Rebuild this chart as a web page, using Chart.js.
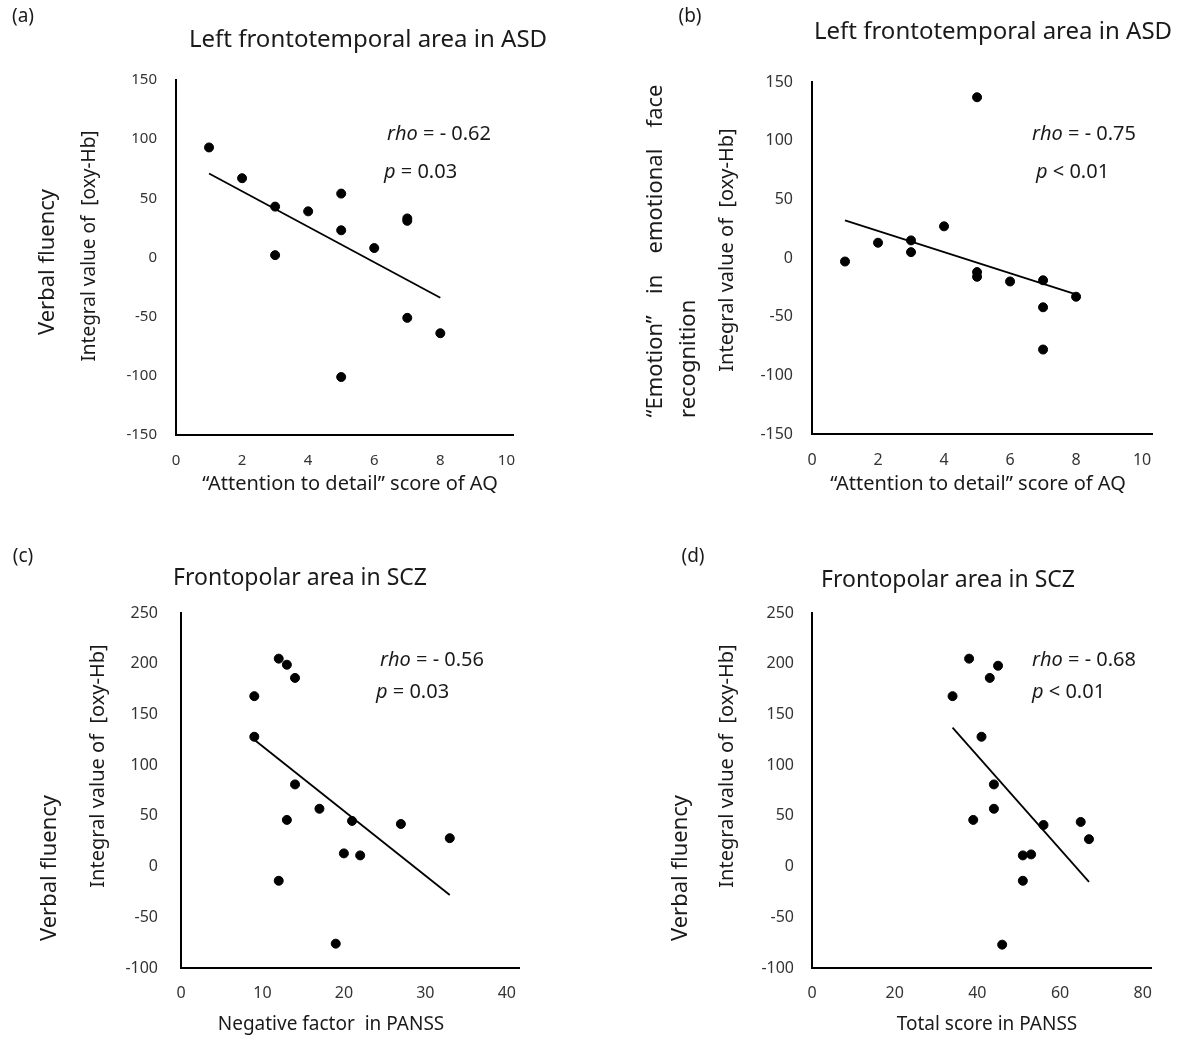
<!doctype html>
<html>
<head>
<meta charset="utf-8">
<script src="https://cdn.jsdelivr.net/npm/chart.js@4.4.1/dist/chart.umd.min.js"></script>
<style>
  body { margin:0; background:#fff; width:1179px; height:1039px; position:relative; overflow:hidden; }
  canvas { position:absolute; }
</style>
</head>
<body>
<canvas id="ca"></canvas>
<canvas id="cb"></canvas>
<canvas id="cc"></canvas>
<canvas id="cd"></canvas>
<script>
// (a) verbal fluency vs AQ attention to detail (ASD)
const aqA   = [1, 2, 3, 3, 4, 5, 5, 5, 6, 7, 7, 7, 8];
const oxyA  = [93, 67, 43, 2, 39, 54, 23, -101, 8, 33, 31, -51, -64];
const fitA  = [[1, 71], [8, -34]];
// (b) emotion task vs AQ attention to detail (ASD)
const aqB   = [1, 2, 3, 3, 4, 5, 5, 5, 6, 7, 7, 7, 8];
const oxyB  = [-3, 13, 15, 5, 27, 137, -12, -16, -20, -19, -42, -78, -33];
const fitB  = [[1, 32], [8, -31]];
// (c) verbal fluency vs PANSS negative factor (SCZ)
const negC  = [12, 13, 14, 9, 9, 14, 17, 13, 21, 27, 33, 20, 22, 12, 19];
const oxyC  = [205, 199, 186, 168, 128, 81, 57, 46, 45, 42, 28, 13, 11, -14, -76];
const fitC  = [[9, 125], [33, -28]];
// (d) verbal fluency vs PANSS total (SCZ)
const totD  = [38, 45, 43, 34, 41, 44, 44, 39, 56, 65, 67, 51, 53, 51, 46];
const oxyD  = [205, 198, 186, 168, 128, 81, 57, 46, 41, 44, 27, 11, 12, -14, -77];
const fitD  = [[34, 137], [67, -15]];

const ticksAQ = [0, 2, 4, 6, 8, 10];
const ticksNeg = [0, 10, 20, 30, 40];
const ticksTot = [0, 20, 40, 60, 80];
const yTicksASD = [-150, -100, -50, 0, 50, 100, 150];
const yTicksSCZ = [-100, -50, 0, 50, 100, 150, 200, 250];

const FONT = '"Noto Sans", "Open Sans", sans-serif';
const INK = '#1a1a1a';

const toPts = (xs, ys) => xs.map((x, i) => ({x: x, y: ys[i]}));
const toLine = arr => arr.map(p => ({x: p[0], y: p[1]}));

// draws titles, axis captions and stats on top of each chart
const panelText = {
  id: 'panelText',
  afterDraw(chart, args, o) {
    const ctx = chart.ctx;
    const ox = o.origin[0], oy = o.origin[1];
    (o.items || []).forEach(t => {
      ctx.save();
      ctx.fillStyle = INK;
      ctx.textBaseline = 'middle';
      ctx.translate(t.x - ox, t.y - oy);
      if (t.rot) ctx.rotate(-Math.PI / 2);
      const size = t.size || 16;
      if (t.parts) {
        let x = 0;
        t.parts.forEach(p => {
          ctx.font = (p.it ? 'italic ' : '') + size + 'px ' + FONT;
          ctx.fillText(p.t, x, 0);
          x += ctx.measureText(p.t).width;
        });
      } else if (t.justify) {
        ctx.font = size + 'px ' + FONT;
        const words = t.text.split(' ').filter(Boolean);
        const w = words.map(s => ctx.measureText(s).width);
        const gap = (t.justify - w.reduce((a, b) => a + b, 0)) / (words.length - 1);
        let x = -t.justify / 2;
        words.forEach((s, i) => { ctx.fillText(s, x, 0); x += w[i] + gap; });
      } else {
        ctx.font = size + 'px ' + FONT;
        ctx.textAlign = t.align || 'center';
        ctx.fillText(t.text, 0, 0);
      }
      ctx.restore();
    });
  }
};

function panel(id, box, area, cfg) {
  const cv = document.getElementById(id);
  cv.style.left = box[0] + 'px';
  cv.style.top = box[1] + 'px';
  cv.style.width = box[2] + 'px';
  cv.style.height = box[3] + 'px';
  cv.width = box[2];
  cv.height = box[3];
  const YW = 75, XH = 42;
  const tickFont = {family: FONT, size: cfg.tickSize};
  new Chart(cv, {
    type: 'scatter',
    data: {
      datasets: [
        {
          type: 'scatter',
          data: cfg.points,
          backgroundColor: '#000',
          borderColor: '#000',
          pointRadius: 4.5,
          pointHoverRadius: 4.5,
          order: 1
        },
        {
          type: 'line',
          data: cfg.fit,
          borderColor: '#000',
          borderWidth: 1.8,
          pointRadius: 0,
          fill: false,
          order: 2
        }
      ]
    },
    options: {
      responsive: false,
      animation: false,
      events: [],
      layout: {
        padding: {
          left: area[0] - box[0] - YW,
          top: area[1] - box[1],
          right: box[0] + box[2] - area[2],
          bottom: box[1] + box[3] - area[3] - XH
        }
      },
      plugins: {
        legend: {display: false},
        tooltip: {enabled: false},
        title: {display: false},
        panelText: {origin: [box[0], box[1]], items: cfg.text}
      },
      scales: {
        x: {
          type: 'linear',
          min: 0,
          max: cfg.xEnd,
          afterFit: s => { s.height = XH; },
          afterBuildTicks: s => { s.ticks = cfg.xTicks.map(v => ({value: v})); },
          grid: {display: false, drawTicks: false},
          border: {display: true, color: '#000', width: 2},
          ticks: {font: tickFont, color: '#333', padding: cfg.xPad, maxRotation: 0, autoSkip: false}
        },
        y: {
          type: 'linear',
          min: cfg.yTicks[0],
          max: cfg.yTicks[cfg.yTicks.length - 1],
          afterFit: s => { s.width = YW; },
          afterBuildTicks: s => { s.ticks = cfg.yTicks.map(v => ({value: v})); },
          grid: {display: false, drawTicks: false},
          border: {display: true, color: '#000', width: 2},
          ticks: {font: tickFont, color: '#333', padding: cfg.yPad, autoSkip: false}
        }
      }
    },
    plugins: [panelText]
  });
}

panel('ca', [0, 0, 590, 520], [176, 80, 513, 435], {
  points: toPts(aqA, oxyA), fit: toLine(fitA),
  xTicks: ticksAQ, xEnd: 10.2, yTicks: yTicksASD,
  tickSize: 15, xPad: 17, yPad: 19,
  text: [
    {text: '(a)', x: 23, y: 17, size: 19},
    {text: 'Left frontotemporal area in ASD', x: 368, y: 40, size: 24},
    {text: '“Attention to detail” score of AQ', x: 350, y: 484, size: 20},
    {text: 'Verbal fluency', x: 48, y: 262, size: 22, rot: true},
    {text: 'Integral value of  [oxy-Hb]', x: 90, y: 246, size: 19, rot: true},
    {parts: [{t: 'rho', it: true}, {t: ' = - 0.62'}], x: 387, y: 134, size: 20},
    {parts: [{t: 'p', it: true}, {t: ' = 0.03'}], x: 384, y: 172, size: 20}
  ]
});

panel('cb', [590, 0, 589, 520], [812, 82, 1152, 434], {
  points: toPts(aqB, oxyB), fit: toLine(fitB),
  xTicks: ticksAQ, xEnd: 10.3, yTicks: yTicksASD,
  tickSize: 16, xPad: 17, yPad: 19,
  text: [
    {text: '(b)', x: 690, y: 17, size: 19},
    {text: 'Left frontotemporal area in ASD', x: 993, y: 32, size: 24},
    {text: '“Attention to detail” score of AQ', x: 978, y: 484, size: 20},
    {text: '“Emotion” in emotional face', x: 656, y: 251, size: 22, rot: true, justify: 333},
    {text: 'recognition', x: 689, y: 418, size: 22, rot: true, align: 'left'},
    {text: 'Integral value of  [oxy-Hb]', x: 727, y: 250, size: 20, rot: true},
    {parts: [{t: 'rho', it: true}, {t: ' = - 0.75'}], x: 1032, y: 134, size: 20},
    {parts: [{t: 'p', it: true}, {t: ' < 0.01'}], x: 1036, y: 172, size: 20}
  ]
});

panel('cc', [0, 520, 590, 519], [181, 613, 519, 968], {
  points: toPts(negC, oxyC), fit: toLine(fitC),
  xTicks: ticksNeg, xEnd: 41.5, yTicks: yTicksSCZ,
  tickSize: 16, xPad: 16, yPad: 23,
  text: [
    {text: '(c)', x: 23, y: 557, size: 19},
    {text: 'Frontopolar area in SCZ', x: 300, y: 578, size: 23},
    {text: 'Negative factor  in PANSS', x: 331, y: 1025, size: 19},
    {text: 'Verbal fluency', x: 50, y: 868, size: 22, rot: true},
    {text: 'Integral value of  [oxy-Hb]', x: 98, y: 766, size: 20, rot: true},
    {parts: [{t: 'rho', it: true}, {t: ' = - 0.56'}], x: 380, y: 660, size: 20},
    {parts: [{t: 'p', it: true}, {t: ' = 0.03'}], x: 376, y: 692, size: 20}
  ]
});

panel('cd', [590, 520, 589, 519], [812, 613, 1151, 968], {
  points: toPts(totD, oxyD), fit: toLine(fitD),
  xTicks: ticksTot, xEnd: 82, yTicks: yTicksSCZ,
  tickSize: 16, xPad: 16, yPad: 18,
  text: [
    {text: '(d)', x: 693, y: 557, size: 19},
    {text: 'Frontopolar area in SCZ', x: 948, y: 580, size: 23},
    {text: 'Total score in PANSS', x: 987, y: 1025, size: 19},
    {text: 'Verbal fluency', x: 681, y: 868, size: 22, rot: true},
    {text: 'Integral value of  [oxy-Hb]', x: 727, y: 766, size: 20, rot: true},
    {parts: [{t: 'rho', it: true}, {t: ' = - 0.68'}], x: 1032, y: 660, size: 20},
    {parts: [{t: 'p', it: true}, {t: ' < 0.01'}], x: 1032, y: 692, size: 20}
  ]
});
</script>
</body>
</html>
